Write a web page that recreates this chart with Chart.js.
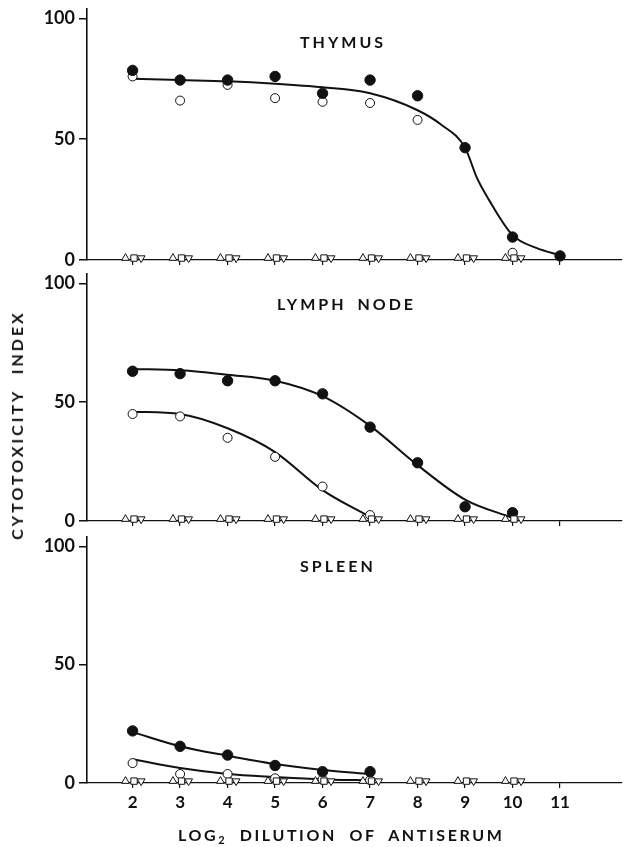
<!DOCTYPE html>
<html>
<head>
<meta charset="utf-8">
<script src="https://cdn.jsdelivr.net/npm/chart.js@4.4.1/dist/chart.umd.min.js"></script>
<style>
  body { margin: 0; background: #fff; width: 628px; height: 847px; position: relative; overflow: hidden;
         font-family: Lato, "DejaVu Sans", sans-serif; font-weight: 700; color: #111; }
  .panel { position: absolute; left: 0; width: 628px; }
  .lbl { position: absolute; font-size: 16px; letter-spacing: 3px; white-space: nowrap; line-height: 1; }
  .ylab { position: absolute; left: 9px; top: 425px; font-size: 16px; letter-spacing: 3px; word-spacing: 8px;
          white-space: nowrap; line-height: 1; transform: translate(-50%, -50%) rotate(-90deg);
          transform-origin: center; margin-left: 8px; }
</style>
</head>
<body>
<div class="panel" style="top:-6px;height:286px"><canvas id="thymus"></canvas></div>
<div class="panel" style="top:259px;height:282px"><canvas id="lymph"></canvas></div>
<div class="panel" style="top:522px;height:325px"><canvas id="spleen"></canvas></div>

<div class="lbl" style="left:300px;top:34px">THYMUS</div>
<div class="lbl" style="left:277px;top:296px;word-spacing:4px">LYMPH NODE</div>
<div class="lbl" style="left:300px;top:558px">SPLEEN</div>
<div class="ylab">CYTOTOXICITY INDEX</div>
<div class="lbl" style="left:178px;top:827px;letter-spacing:2.6px;word-spacing:6px">LOG<sub style="font-size:11px;vertical-align:-3px">2</sub> DILUTION OF ANTISERUM</div>

<script>
const dilution = [2, 3, 4, 5, 6, 7, 8, 9, 10, 11];
const yTicks = [0, 50, 100];

// thymus
const thymusFilled = [78.5, 74.5, 74.5, 76, 69, 74.5, 68, 46.5, 9.5, 1.7];
const thymusOpen = [76, 66, 72.5, 67, 65.5, 65, 58, null, 3, null];
const thymusCurveX = [2, 3, 4, 5, 6, 7, 8, 8.5, 9, 9.25, 9.5, 10, 10.5, 11];
const thymusCurve = [75, 74.5, 74, 73, 71.5, 69, 62, 56, 46.5, 34, 25, 10.3, 5, 2];

// lymph node
const lymphFilled = [63, 62, 59, 59, 53.5, 39.5, 24.5, 6, 3.5];
const lymphOpen = [45, 44, 35, 27, 14.5, 2.5];
const lymphFilledCurve = [64, 63.4, 61.5, 59, 52.5, 40, 23.5, 9, 1.3];
const lymphOpenCurve = [46, 45, 39, 29, 13, 1.7];

// spleen
const spleenFilled = [22, 15.5, 11.8, 7.4, 4.8, 4.8];
const spleenOpen = [8.4, 3.8, 3.8, 2, 1.5, 1.2];
const spleenFilledCurve = [21.5, 15.5, 11.5, 8, 5.5, 3.8];
const spleenOpenCurve = [10, 6.3, 3.8, 2.5, 1.5, 1.2];

// controls, all ~0 from 2 to 10
const controlX = [2, 3, 4, 5, 6, 7, 8, 9, 10];
const controlVal = [0.8, 0.8, 0.8, 0.8, 0.8, 0.8, 0.8, 0.8, 0.8];

const ink = '#111';

function pts(xs, ys, dx = 0) {
    return ys.map((y, i) => ({ x: xs[i] + dx, y: y })).filter(p => p.y != null);
}

function curve(xs, ys) {
    return { type: 'line', data: pts(xs, ys), borderColor: ink, borderWidth: 2, pointRadius: 0,
             cubicInterpolationMode: 'monotone', fill: false, order: 5 };
}

function dots(xs, ys, filled) {
    return { type: 'scatter', data: pts(xs, ys), pointRadius: filled ? 5.2 : 4.5,
             pointBackgroundColor: filled ? ink : '#fff', pointBorderColor: ink,
             pointBorderWidth: 1, showLine: false, order: filled ? 1 : 2 };
}

function controls() {
    return [
        { type: 'scatter', data: pts(controlX, controlVal, -0.15), pointStyle: 'triangle', pointRadius: 4.5,
          pointBackgroundColor: '#fff', pointBorderColor: ink, pointBorderWidth: 1 },
        { type: 'scatter', data: pts(controlX, controlVal, 0.03), pointStyle: 'rect', pointRadius: 4.5,
          pointBackgroundColor: '#fff', pointBorderColor: ink, pointBorderWidth: 1 },
        { type: 'scatter', data: pts(controlX, controlVal, 0.18), pointStyle: 'triangle', rotation: 180, pointRadius: 4.5,
          pointBackgroundColor: '#fff', pointBorderColor: ink, pointBorderWidth: 1 }
    ];
}

// padTop / xHeight are larger than the tick label overflow so they set the plot box
function makePanel(id, datasets, padTop, xHeight, showX) {
    new Chart(document.getElementById(id), {
        type: 'scatter',
        data: { datasets: datasets.map(d => Object.assign({ clip: false }, d)) },
        options: {
            responsive: true,
            maintainAspectRatio: false,
            animation: false,
            layout: { padding: { top: padTop, right: 2, left: 0, bottom: 0 } },
            plugins: { legend: { display: false }, tooltip: { enabled: false } },
            scales: {
                x: {
                    type: 'linear', min: 1.04, max: 12.3,
                    afterBuildTicks: axis => { axis.ticks = dilution.map(v => ({ value: v })); },
                    afterFit: axis => { axis.height = xHeight; },
                    ticks: { display: showX, color: ink, padding: 4, font: { family: 'Lato', weight: 'bold', size: 17 } },
                    grid: { drawOnChartArea: false, tickLength: 5, color: ink, lineWidth: 1.2 },
                    border: { color: ink, width: 1.3 }
                },
                y: {
                    min: 0, max: 104,
                    afterBuildTicks: axis => { axis.ticks = yTicks.map(v => ({ value: v })); },
                    afterFit: axis => { axis.width = 87; },
                    ticks: { color: ink, padding: 4, font: { family: 'Lato', weight: 'bold', size: 18 } },
                    grid: { drawOnChartArea: false, tickLength: 8, color: ink, lineWidth: 1.5 },
                    border: { color: ink, width: 1.6 }
                }
            }
        }
    });
}

makePanel('thymus', [
    curve(thymusCurveX, thymusCurve),
    dots(dilution, thymusFilled, true),
    dots(dilution, thymusOpen, false),
    ...controls()
], 14, 20, false);

makePanel('lymph', [
    curve(dilution, lymphFilledCurve),
    curve(dilution, lymphOpenCurve),
    dots(dilution, lymphFilled, true),
    dots(dilution, lymphOpen, false),
    ...controls()
], 14, 20, false);

makePanel('spleen', [
    curve(dilution, spleenFilledCurve),
    curve(dilution, spleenOpenCurve),
    dots(dilution, spleenFilled, true),
    dots(dilution, spleenOpen, false),
    ...controls()
], 14, 64, true);
</script>
</body>
</html>
